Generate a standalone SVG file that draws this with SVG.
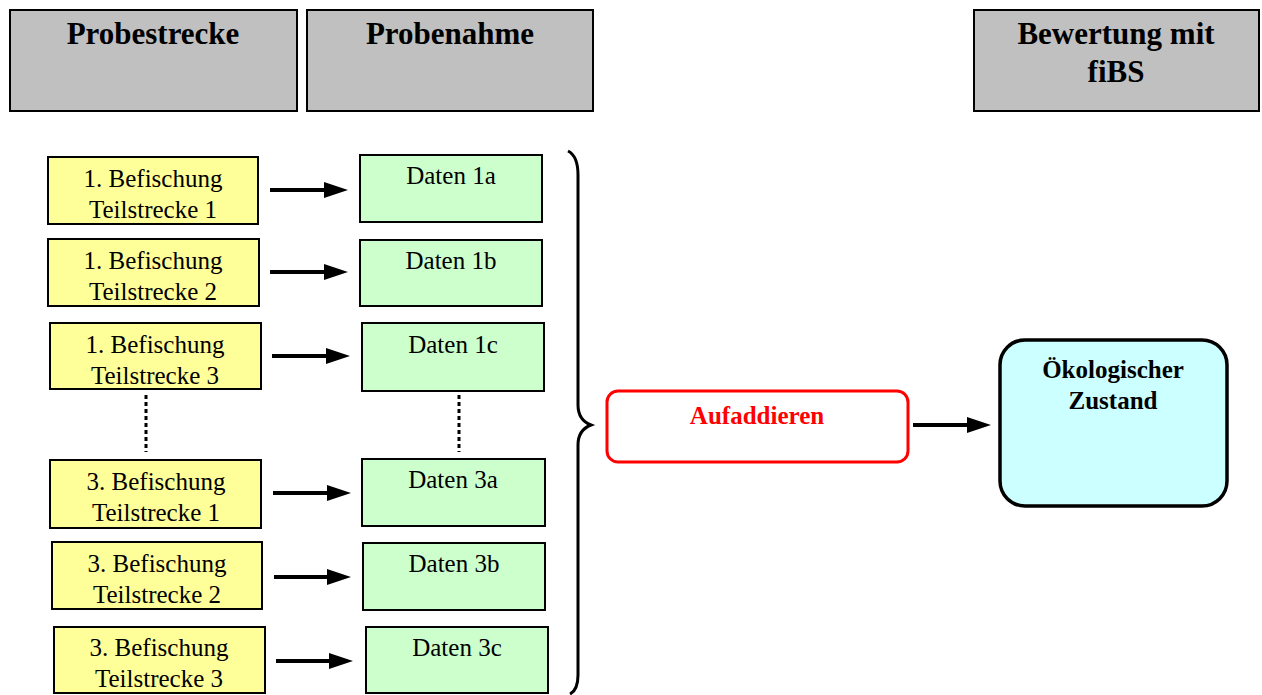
<svg xmlns="http://www.w3.org/2000/svg" width="1262" height="695" viewBox="0 0 1262 695">
<style>
.hdr{fill:#C0C0C0;stroke:#000;stroke-width:2}
.hdrt{font-family:"Liberation Serif",serif;font-weight:bold;font-size:31px;text-anchor:middle;fill:#000}
.yel{fill:#FFFF99;stroke:#000;stroke-width:2}
.grn{fill:#CCFFCC;stroke:#000;stroke-width:2}
.t{font-family:"Liberation Serif",serif;font-size:25px;text-anchor:middle;fill:#000}
.conn{stroke:#000;stroke-width:4;fill:none}
.dot{stroke:#000;stroke-width:3;stroke-dasharray:4,3;fill:none}
</style>
<defs>
<marker id="ah" markerWidth="6" markerHeight="4" refX="0" refY="2" orient="auto" markerUnits="strokeWidth">
<path d="M0,0 L6,2 L0,4 Z" fill="#000"/>
</marker>
</defs>
<rect width="1262" height="695" fill="#fff"/>
<g id="h1"><rect class="hdr" x="10" y="10" width="287" height="101"/><text class="hdrt" x="153" y="44">Probestrecke</text></g>
<g id="h2"><rect class="hdr" x="307" y="10" width="286" height="101"/><text class="hdrt" x="450" y="44">Probenahme</text></g>
<g id="h3"><rect class="hdr" x="974" y="10" width="285" height="101"/><text class="hdrt" x="1116" y="44">Bewertung mit</text><text class="hdrt" x="1116" y="82">fiBS</text></g>

<g id="y1"><rect class="yel" x="48" y="157" width="210" height="67"/><text class="t" x="153" y="187">1. Befischung</text><text class="t" x="153" y="218">Teilstrecke 1</text></g>
<g id="y2"><rect class="yel" x="48" y="239" width="211" height="67"/><text class="t" x="153" y="269">1. Befischung</text><text class="t" x="153" y="300">Teilstrecke 2</text></g>
<g id="y3"><rect class="yel" x="50" y="323" width="211" height="66"/><text class="t" x="155" y="353">1. Befischung</text><text class="t" x="155" y="384">Teilstrecke 3</text></g>
<g id="y4"><rect class="yel" x="50" y="460" width="211" height="68"/><text class="t" x="156" y="490">3. Befischung</text><text class="t" x="156" y="521">Teilstrecke 1</text></g>
<g id="y5"><rect class="yel" x="52" y="542" width="210" height="67"/><text class="t" x="157" y="572">3. Befischung</text><text class="t" x="157" y="603">Teilstrecke 2</text></g>
<g id="y6"><rect class="yel" x="54" y="627" width="211" height="66"/><text class="t" x="159" y="656">3. Befischung</text><text class="t" x="159" y="687">Teilstrecke 3</text></g>

<g id="g1"><rect class="grn" x="360" y="155" width="182" height="67"/><text class="t" x="451" y="184">Daten 1a</text></g>
<g id="g2"><rect class="grn" x="360" y="240" width="182" height="66"/><text class="t" x="451" y="269">Daten 1b</text></g>
<g id="g3"><rect class="grn" x="362" y="323" width="182" height="68"/><text class="t" x="453" y="353">Daten 1c</text></g>
<g id="g4"><rect class="grn" x="362" y="459" width="183" height="67"/><text class="t" x="453" y="488">Daten 3a</text></g>
<g id="g5"><rect class="grn" x="363" y="543" width="182" height="67"/><text class="t" x="454" y="572">Daten 3b</text></g>
<g id="g6"><rect class="grn" x="366" y="627" width="182" height="66"/><text class="t" x="457" y="656">Daten 3c</text></g>

<g id="aufaddieren"><rect x="607" y="391" width="301" height="71" rx="11" fill="#fff" stroke="#FF0000" stroke-width="3"/><text x="757" y="424" font-family="'Liberation Serif',serif" font-weight="bold" font-size="25" text-anchor="middle" fill="#FF0000">Aufaddieren</text></g>
<g id="zustand"><rect x="1000" y="340" width="227" height="166" rx="25" fill="#CCFFFF" stroke="#000" stroke-width="3.5"/><text x="1113" y="378" font-family="'Liberation Serif',serif" font-weight="bold" font-size="25" text-anchor="middle">Ökologischer</text><text x="1113" y="409" font-family="'Liberation Serif',serif" font-weight="bold" font-size="25" text-anchor="middle">Zustand</text></g>

<g id="connectors">
<path class="conn" d="M270,190 H324" marker-end="url(#ah)"/>
<path class="conn" d="M270,272 H324" marker-end="url(#ah)"/>
<path class="conn" d="M272,356 H326" marker-end="url(#ah)"/>
<path class="conn" d="M273,493 H327" marker-end="url(#ah)"/>
<path class="conn" d="M274,577 H327" marker-end="url(#ah)"/>
<path class="conn" d="M276,661 H329" marker-end="url(#ah)"/>
<path class="conn" d="M913,425 H967" marker-end="url(#ah)"/>
<path class="dot" d="M146,395 V452"/>
<path class="dot" d="M459,395 V452"/>
<path d="M568,151 Q578,156 578,175 V405 Q578,420 591,425 Q578,430 578,445 V675 Q578,690 570,694" fill="none" stroke="#000" stroke-width="3"/>
</g>
</svg>
